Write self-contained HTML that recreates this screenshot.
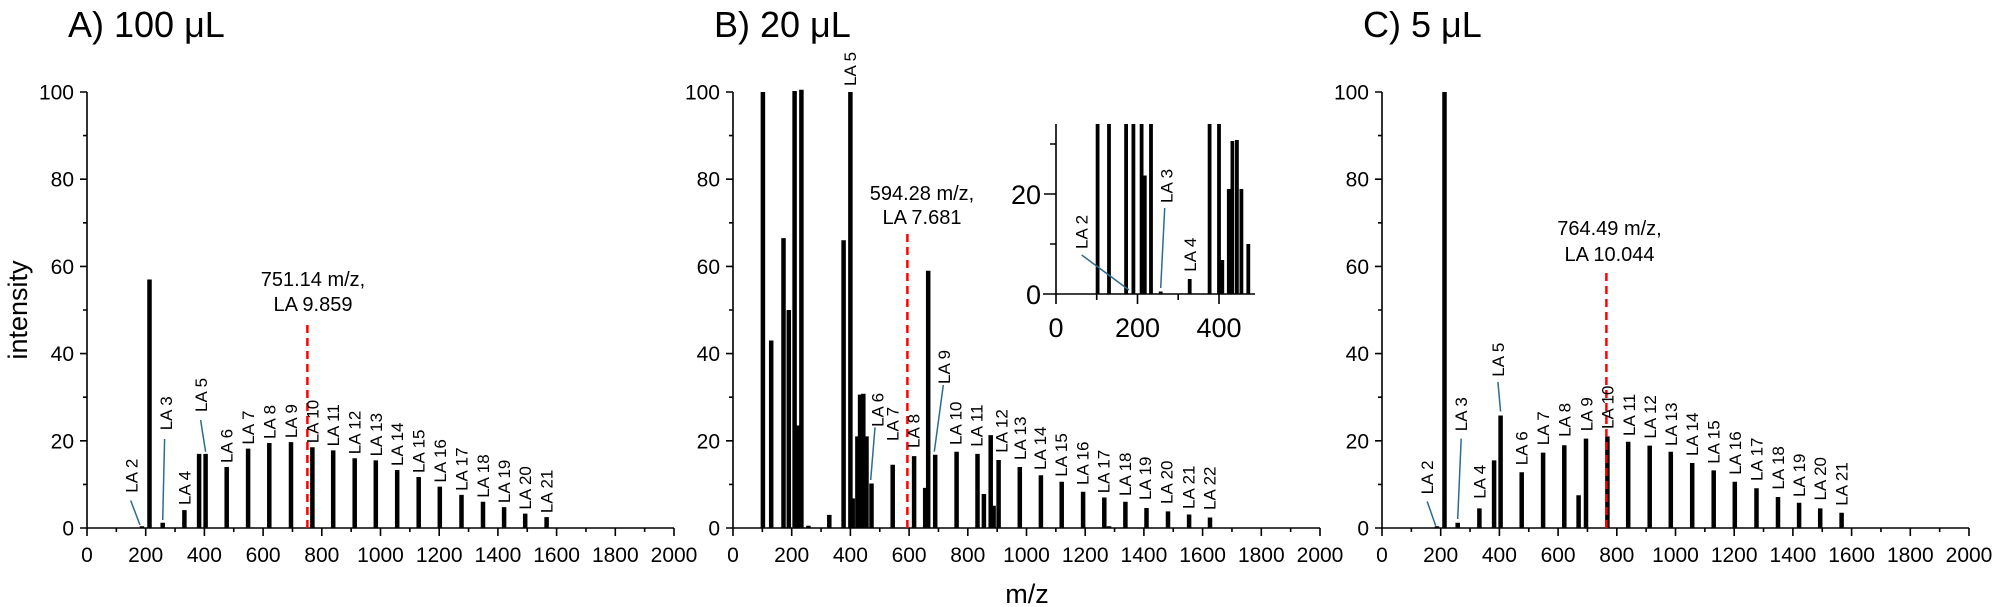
<!DOCTYPE html>
<html><head><meta charset="utf-8"><style>
html,body{margin:0;padding:0;background:#fff}
svg{display:block}
text{font-family:"Liberation Sans",Arial,sans-serif;fill:#000}
.t{font-size:21px}
.l{font-size:17px}
.a{font-size:20px}
.bar{stroke:#000;stroke-width:4.5;fill:none}
.ax{stroke:#000;stroke-width:1.6;fill:none}
.ld{stroke:#2f6b8e;stroke-width:1.5;fill:none}
.rd{stroke:#f00;stroke-width:2.5;stroke-dasharray:8,5;fill:none}
</style></head><body>
<svg width="1998" height="607" viewBox="0 0 1998 607" xmlns="http://www.w3.org/2000/svg">
<defs>
<g id="axes">
<path class="ax" d="M0 92V528H587"/>
<path class="ax" d="M0 528v8M58.7 528v8M117.4 528v8M176.1 528v8M234.8 528v8M293.5 528v8M352.2 528v8M410.9 528v8M469.6 528v8M528.3 528v8M587 528v8M29.35 528v4M88.05 528v4M146.75 528v4M205.45 528v4M264.15 528v4M322.85 528v4M381.55 528v4M440.25 528v4M498.95 528v4M557.65 528v4M0 528h-7M0 440.8h-7M0 353.6h-7M0 266.4h-7M0 179.2h-7M0 92h-7M0 484.4h-4M0 397.2h-4M0 310h-4M0 222.8h-4M0 135.6h-4"/>
<g class="t" text-anchor="end">
<text x="-13" y="535.5">0</text><text x="-13" y="448.3">20</text><text x="-13" y="361.1">40</text><text x="-13" y="273.9">60</text><text x="-13" y="186.7">80</text><text x="-13" y="99.5">100</text>
</g>
<g class="t" text-anchor="middle">
<text x="0" y="562">0</text><text x="58.7" y="562">200</text><text x="117.4" y="562">400</text><text x="176.1" y="562">600</text><text x="234.8" y="562">800</text><text x="293.5" y="562">1000</text><text x="352.2" y="562">1200</text><text x="410.9" y="562">1400</text><text x="469.6" y="562">1600</text><text x="528.3" y="562">1800</text><text x="587" y="562">2000</text>
</g>
</g>
</defs>

<!-- titles -->
<text x="68" y="37" style="font-size:36px">A) 100 μL</text>
<text x="714" y="37" style="font-size:36px">B) 20 μL</text>
<text x="1363" y="37" style="font-size:36px">C) 5 μL</text>
<text transform="translate(27,310) rotate(-90)" text-anchor="middle" style="font-size:27px">intensity</text>
<text x="1027" y="603" text-anchor="middle" style="font-size:27px">m/z</text>

<use href="#axes" transform="translate(87,0)"/>
<use href="#axes" transform="translate(733,0)"/>
<use href="#axes" transform="translate(1382,0)"/>

<!-- Panel A bars -->
<path class="bar" d="M141.9 528V526.3M149.5 528V279.5M162.7 528V522.8M184.4 528V510.1M199.1 528V453.9M205.6 528V453.9M226.7 528V467M248.1 528V448.6M269.3 528V443M291 528V442.1M312.4 528V447.3M333.2 528V450.4M354.7 528V458.2M375.8 528V460.4M397.2 528V470M418.7 528V477M439.8 528V486.6M461.5 528V494.9M483 528V501.8M504.1 528V507.1M525.2 528V513.6M546.6 528V517.1"/>
<path class="rd" d="M307.4 528V322"/>
<g class="a" text-anchor="middle"><text x="313" y="286">751.14 m/z,</text><text x="313" y="311">LA 9.859</text></g>
<path class="ld" d="M130.7 500.5L140 525M164.6 439L162.7 520M200.6 420L205.6 451.7"/>
<g class="l">
<text transform="translate(137.6,492.7) rotate(-90)">LA 2</text>
<text transform="translate(172,430.3) rotate(-90)">LA 3</text>
<text transform="translate(190.4,505) rotate(-90)">LA 4</text>
<text transform="translate(206.9,412) rotate(-90)">LA 5</text>
<text transform="translate(232.7,463) rotate(-90)">LA 6</text>
<text transform="translate(254.1,444.6) rotate(-90)">LA 7</text>
<text transform="translate(275.3,439) rotate(-90)">LA 8</text>
<text transform="translate(297,438.1) rotate(-90)">LA 9</text>
<text transform="translate(318.4,443.3) rotate(-90)">LA 10</text>
<text transform="translate(339.2,446.4) rotate(-90)">LA 11</text>
<text transform="translate(360.7,454.2) rotate(-90)">LA 12</text>
<text transform="translate(381.8,456.4) rotate(-90)">LA 13</text>
<text transform="translate(403.2,466) rotate(-90)">LA 14</text>
<text transform="translate(424.7,473) rotate(-90)">LA 15</text>
<text transform="translate(445.8,482.6) rotate(-90)">LA 16</text>
<text transform="translate(467.5,490.9) rotate(-90)">LA 17</text>
<text transform="translate(489,497.8) rotate(-90)">LA 18</text>
<text transform="translate(510.1,503.1) rotate(-90)">LA 19</text>
<text transform="translate(531.2,509.6) rotate(-90)">LA 20</text>
<text transform="translate(552.6,513.1) rotate(-90)">LA 21</text>
</g>

<!-- Panel B bars -->
<path class="bar" d="M762.9 528V92M771.2 528V340.5M783.5 528V238.1M788.8 528V310M794.6 528V91M797 528V425.5M801.4 528V89.8M808.4 528V525.8M829.3 528V514.9M843.6 528V240.2M850.4 528V92M852.7 528V498.4M857.4 528V436.4M860.1 528V394.6M863.3 528V393.7M866.5 528V436.4M871.5 528V483.5M892.7 528V464.8M914.1 528V456.1M925.2 528V487.9M928.2 528V270.8M935.2 528V454.8M956.6 528V451.7M977.5 528V453.9M983.9 528V494M990.7 528V435.1M993.6 528V505.8M998.6 528V460M1019.8 528V467M1040.9 528V475.2M1061.7 528V481.8M1083.1 528V491.8M1104.3 528V497.5M1109 528V526.3M1125.4 528V501.8M1146.5 528V508M1168 528V511.4M1189.1 528V514.5M1210 528V517.5"/>
<path class="rd" d="M907.4 528V233"/>
<g class="a" text-anchor="middle"><text x="922" y="200">594.28 m/z,</text><text x="922" y="224">LA 7.681</text></g>
<path class="ld" d="M875 427.3L870.7 480M943.3 385L934.3 451.7"/>
<g class="l">
<text transform="translate(856,86) rotate(-90)">LA 5</text>
<text transform="translate(883.7,426.9) rotate(-90)">LA 6</text>
<text transform="translate(898.7,441) rotate(-90)">LA 7</text>
<text transform="translate(919.3,448) rotate(-90)">LA 8</text>
<text transform="translate(950,384) rotate(-90)">LA 9</text>
<text transform="translate(961.7,445) rotate(-90)">LA 10</text>
<text transform="translate(982.7,446.7) rotate(-90)">LA 11</text>
<text transform="translate(1007.7,452.7) rotate(-90)">LA 12</text>
<text transform="translate(1026,460) rotate(-90)">LA 13</text>
<text transform="translate(1046,470) rotate(-90)">LA 14</text>
<text transform="translate(1067,476.7) rotate(-90)">LA 15</text>
<text transform="translate(1088.3,485) rotate(-90)">LA 16</text>
<text transform="translate(1109.3,493.3) rotate(-90)">LA 17</text>
<text transform="translate(1131,496) rotate(-90)">LA 18</text>
<text transform="translate(1151,500) rotate(-90)">LA 19</text>
<text transform="translate(1172.7,504) rotate(-90)">LA 20</text>
<text transform="translate(1194.3,509) rotate(-90)">LA 21</text>
<text transform="translate(1215.3,510) rotate(-90)">LA 22</text>
</g>

<!-- Inset -->
<rect x="1042" y="110" width="220" height="186" fill="#fff"/>
<path class="bar" style="stroke-width:3.8" d="M1097.6 294V124M1109 294V124M1126.1 294V124M1133.4 294V124M1141.6 294V124M1144.8 294V175.5M1151 294V124M1160.7 294V291.5M1189.7 294V279M1209.6 294V124M1219 294V124M1222.3 294V260M1228.8 294V189M1232.4 294V141M1236.9 294V140M1241.4 294V189M1248.3 294V244"/>
<path class="ax" d="M1056 124V294M1043 294H1255M1056 294h-12M1056 194h-12M1056 244h-6M1056 144h-6M1056 294v10M1137.5 294v10M1219 294v10M1096.7 294v6M1178.2 294v6"/>
<g style="font-size:27px" text-anchor="end"><text x="1041" y="304">0</text><text x="1041" y="204">20</text></g>
<g style="font-size:27px" text-anchor="middle"><text x="1056" y="337">0</text><text x="1137.5" y="337">200</text><text x="1219" y="337">400</text></g>
<path class="ld" d="M1081.7 255L1129 290M1164.7 208L1160.7 288"/>
<g class="l">
<text transform="translate(1087.7,249) rotate(-90)">LA 2</text>
<text transform="translate(1172.7,203) rotate(-90)">LA 3</text>
<text transform="translate(1196,271.7) rotate(-90)">LA 4</text>
</g>

<!-- Panel C bars -->
<path class="bar" d="M1436.9 528V526.3M1444.5 528V92M1457.7 528V522.8M1479.4 528V508.4M1494.1 528V460.4M1500.6 528V415.5M1521.7 528V472.2M1543.1 528V452.6M1564.3 528V445.2M1578.6 528V495.3M1586 528V438.6M1607.4 528V436.4M1628.2 528V441.7M1649.7 528V445.6M1670.8 528V451.7M1692.2 528V463M1713.7 528V470.4M1734.8 528V481.8M1756.5 528V488.3M1778 528V497M1799.1 528V502.7M1820.2 528V508.4M1841.6 528V512.7"/>
<path class="rd" d="M1606.4 528V273"/>
<g class="a" text-anchor="middle"><text x="1609.5" y="235">764.49 m/z,</text><text x="1609.5" y="261">LA 10.044</text></g>
<path class="ld" d="M1427.2 501.5L1435.7 525.7M1461.2 438.6L1457.7 519M1497.9 382L1500.6 411.6"/>
<g class="l">
<text transform="translate(1433.2,494.4) rotate(-90)">LA 2</text>
<text transform="translate(1467.2,431.2) rotate(-90)">LA 3</text>
<text transform="translate(1485.4,498.8) rotate(-90)">LA 4</text>
<text transform="translate(1503.9,376.7) rotate(-90)">LA 5</text>
<text transform="translate(1527.7,465.3) rotate(-90)">LA 6</text>
<text transform="translate(1549.1,445.3) rotate(-90)">LA 7</text>
<text transform="translate(1570.6,436.9) rotate(-90)">LA 8</text>
<text transform="translate(1592.6,431.2) rotate(-90)">LA 9</text>
<text transform="translate(1613.5,429) rotate(-90)">LA 10</text>
<text transform="translate(1634.8,436) rotate(-90)">LA 11</text>
<text transform="translate(1656,438.6) rotate(-90)">LA 12</text>
<text transform="translate(1677,446) rotate(-90)">LA 13</text>
<text transform="translate(1698,456) rotate(-90)">LA 14</text>
<text transform="translate(1719.7,463.8) rotate(-90)">LA 15</text>
<text transform="translate(1740.8,474.8) rotate(-90)">LA 16</text>
<text transform="translate(1762.5,481) rotate(-90)">LA 17</text>
<text transform="translate(1784,489.6) rotate(-90)">LA 18</text>
<text transform="translate(1805,497) rotate(-90)">LA 19</text>
<text transform="translate(1826,500.5) rotate(-90)">LA 20</text>
<text transform="translate(1847.6,505.7) rotate(-90)">LA 21</text>
</g>
</svg>
</body></html>
